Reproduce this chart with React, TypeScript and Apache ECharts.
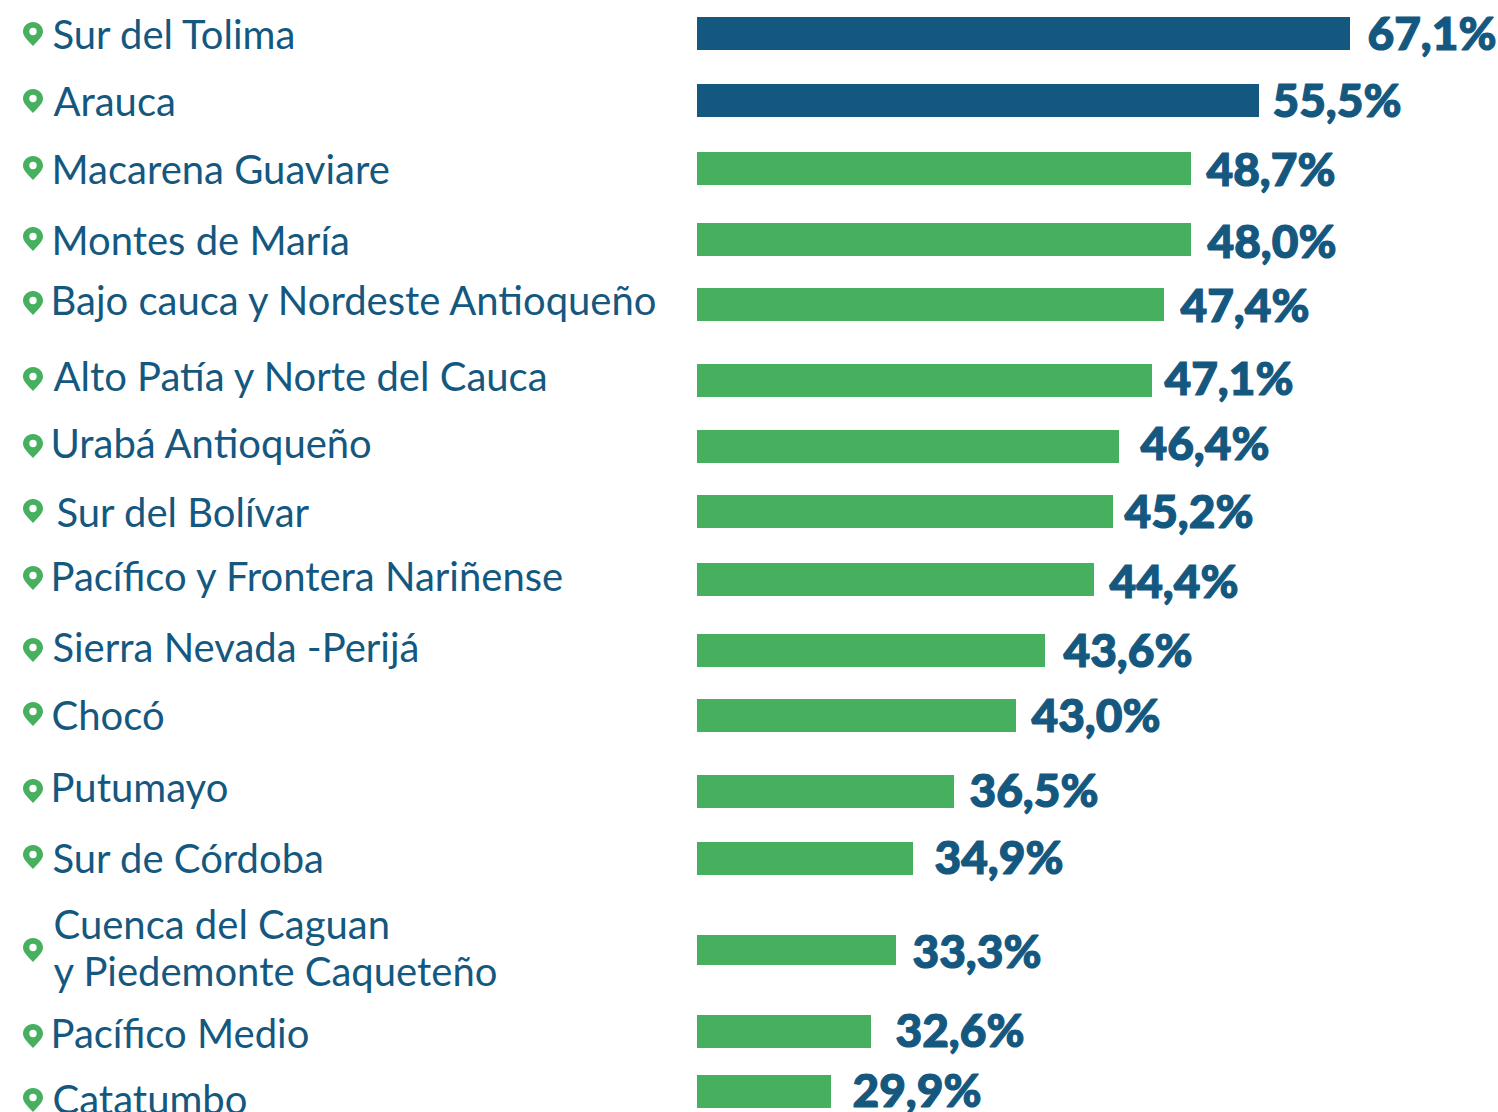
import React, { useEffect, useRef } from "react";
import * as echarts from "echarts";

const regions = ["Sur del Tolima","Arauca","Macarena Guaviare","Montes de María","Bajo cauca y Nordeste Antioqueño","Alto Patía y Norte del Cauca","Urabá Antioqueño","Sur del Bolívar","Pacífico y Frontera Nariñense","Sierra Nevada -Perijá","Chocó","Putumayo","Sur de Córdoba","Cuenca del Caguan\ny Piedemonte Caqueteño","Pacífico Medio","Catatumbo"];
const percentages = [67.1,55.5,48.7,48.0,47.4,47.1,46.4,45.2,44.4,43.6,43.0,36.5,34.9,33.3,32.6,29.9];
// Bar lengths as drawn in the picture (they are not proportional to the printed figures).
const barLengths = [653,562,494,494,467,455,422,416,397,348,319,257,216,199,174,134];

// Layout rows, in the axis units of the hidden scales.
const barTops = [17,84,152,223,288,364,430,495,563,634,699,775,842,935,1015,1075];
const barBottoms = [50,117,185,256,321,397,463,528,596,667,732,808,875,965,1048,1108];
const valueX = [670,575,509,510,483,467,443,427,412,366,334,272,237,215,198,155];
const valueY = [32,99,168,240,304,377,442,510,580,649,714,789,856,950,1029,1089];
const nameX = [-645,-644,-646,-646,-647,-644,-647,-641,-647,-645,-646,-647,-645,-644,-647,-645];
const nameY = [34,101,169,240,300,376,443,512,576,647,715,787,858,947,1033,1099];
const pinY = [34,101,168,239,303,379,446,511,578,650,714,791,857,950,1036,1100];
const PIN_X = -664;
const highlighted = 2;

const BLUE = "#15587f";
const GREEN = "#46b05e";
const PIN = "path://M10 0C4.5 0 0 4.3 0 9.6C0 14 4 18 10 24C16 18 20 14 20 9.6C20 4.3 15.5 0 10 0ZM10 5.8A3.7 3.7 0 1 1 10 13.2A3.7 3.7 0 1 1 10 5.8Z";

export default function App() {
  const ref = useRef<HTMLDivElement>(null);
  useEffect(() => {
    document.body.style.margin = "0";
    const chart = echarts.init(ref.current!, null, { renderer: "svg" });
    chart.setOption({
      animation: false,
      backgroundColor: "#ffffff",
      grid: { left: 0, right: 0, top: 0, bottom: 0 },
      xAxis: { type: "value", min: -697, max: 801, show: false },
      yAxis: { type: "value", min: 0, max: 1112, inverse: true, show: false },
      series: [
        {
          type: "custom",
          coordinateSystem: "cartesian2d",
          encode: { x: 0, y: [1, 2] },
          data: barLengths.map((v, i) => [v, barTops[i], barBottoms[i], i]),
          renderItem: (_p: any, api: any) => {
            const a = api.coord([0, api.value(1)]);
            const b = api.coord([api.value(0), api.value(2)]);
            return {
              type: "rect",
              shape: { x: a[0], y: a[1], width: b[0] - a[0], height: b[1] - a[1] },
              style: { fill: api.value(3) < highlighted ? BLUE : GREEN },
            };
          },
        },
        {
          type: "scatter",
          symbol: PIN,
          symbolSize: [20, 24],
          itemStyle: { color: GREEN, opacity: 1 },
          data: pinY.map((y) => [PIN_X, y]),
        },
        {
          type: "scatter",
          symbolSize: 1,
          itemStyle: { color: "transparent", opacity: 1 },
          data: percentages.map((v, i) => ({ value: [valueX[i], valueY[i]], text: v.toFixed(1).replace(".", ",") + "%" })),
          label: {
            show: true,
            position: "right",
            distance: 0,
            formatter: (p: any) => p.data.text,
            fontFamily: "Lato",
            fontWeight: 900,
            fontSize: 46,
            color: BLUE,
            textBorderColor: BLUE,
            textBorderWidth: 1.2,
          },
        },
        {
          type: "scatter",
          symbolSize: 1,
          itemStyle: { color: "transparent", opacity: 1 },
          data: regions.map((n, i) => ({ value: [nameX[i], nameY[i]], text: n })),
          label: {
            show: true,
            position: "right",
            distance: 0,
            align: "left",
            formatter: (p: any) => p.data.text,
            fontFamily: "Lato",
            fontWeight: 400,
            fontSize: 40,
            lineHeight: 47,
            color: BLUE,
          },
        },
      ],
    });
    return () => chart.dispose();
  }, []);
  return <div ref={ref} style={{ width: 1498, height: 1112 }} />;
}
